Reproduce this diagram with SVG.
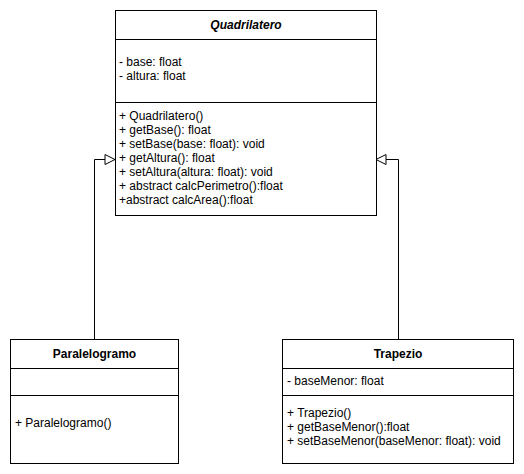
<svg xmlns="http://www.w3.org/2000/svg" width="524" height="474" viewBox="0 0 524 474">
<defs>
<marker id="tri" viewBox="0 0 12 12" refX="11" refY="6" markerWidth="12" markerHeight="12" markerUnits="userSpaceOnUse" orient="auto">
<path d="M1,1 L11,6 L1,11 Z" fill="#ffffff" stroke="#000000" stroke-width="1"/>
</marker>
<style>
.box{fill:#ffffff;stroke:#000000;stroke-width:1}
.div{stroke:#000000;stroke-width:1}
.t{font-family:"Liberation Sans",Arial,sans-serif;font-size:12px;fill:#000000}
.h{font-family:"Liberation Sans",Arial,sans-serif;font-size:12px;fill:#000000;text-anchor:middle;font-weight:bold}
.conn{fill:none;stroke:#000000;stroke-width:1}
</style>
</defs>
<rect width="524" height="474" fill="#ffffff"/>
<g id="connectors">
<path class="conn" d="M94.5,339 L94.5,159.5 L115,159.5" marker-end="url(#tri)"/>
<path class="conn" d="M398.5,339 L398.5,159.5 L376,159.5" marker-end="url(#tri)"/>
</g>
<g id="Quadrilatero">
<rect class="box" x="115.5" y="10.5" width="261" height="205"/>
<line class="div" x1="115.5" y1="39.5" x2="376.5" y2="39.5"/>
<line class="div" x1="115.5" y1="102.5" x2="376.5" y2="102.5"/>
<text class="h" x="246" y="28.5" font-style="italic">Quadrilatero</text>
<text class="t" x="119" y="66">- base: float</text>
<text class="t" x="119" y="80">- altura: float</text>
<text class="t" x="119" y="120">+ Quadrilatero()</text>
<text class="t" x="119" y="134">+ getBase(): float</text>
<text class="t" x="119" y="148">+ setBase(base: float): void</text>
<text class="t" x="119" y="162">+ getAltura(): float</text>
<text class="t" x="119" y="176">+ setAltura(altura: float): void</text>
<text class="t" x="119" y="190">+ abstract calcPerimetro():float</text>
<text class="t" x="119" y="204">+abstract calcArea():float</text>
</g>
<g id="Paralelogramo">
<rect class="box" x="10.5" y="339.5" width="168" height="124"/>
<line class="div" x1="10.5" y1="368.5" x2="178.5" y2="368.5"/>
<line class="div" x1="10.5" y1="395.5" x2="178.5" y2="395.5"/>
<text class="h" x="94.5" y="357.5">Paralelogramo</text>
<text class="t" x="15" y="427">+ Paralelogramo()</text>
</g>
<g id="Trapezio">
<rect class="box" x="282.5" y="339.5" width="231" height="124"/>
<line class="div" x1="282.5" y1="368.5" x2="513.5" y2="368.5"/>
<line class="div" x1="282.5" y1="395.5" x2="513.5" y2="395.5"/>
<text class="h" x="398" y="357.5">Trapezio</text>
<text class="t" x="287" y="385">- baseMenor: float</text>
<text class="t" x="287" y="417">+ Trapezio()</text>
<text class="t" x="287" y="431">+ getBaseMenor():float</text>
<text class="t" x="287" y="445">+ setBaseMenor(baseMenor: float): void</text>
</g>
</svg>
